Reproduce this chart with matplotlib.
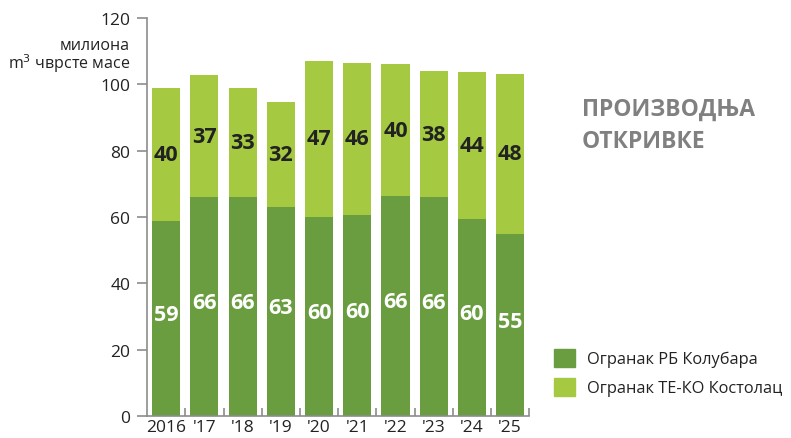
import matplotlib.pyplot as plt
from matplotlib.patches import Patch

plt.rcParams['font.family'] = ['Open Sans', 'DejaVu Sans']

years = ['2016', "'17", "'18", "'19", "'20", "'21", "'22", "'23", "'24", "'25"]
kolubara = [58.8, 66.0, 66.0, 63.0, 60.0, 60.6, 66.3, 66.0, 59.5, 55.0]
kostolac = [40.1, 36.8, 32.9, 31.7, 47.0, 45.8, 39.8, 38.0, 44.2, 48.1]
kolubara_lbl = [59, 66, 66, 63, 60, 60, 66, 66, 60, 55]
kostolac_lbl = [40, 37, 33, 32, 47, 46, 40, 38, 44, 48]
series_names = ['Огранак РБ Колубара', 'Огранак ТЕ-КО Костолац']

dark = '#6a9d3f'
light = '#a5ca42'
txt = '#222222'
axc = '#8c8c8c'

fig = plt.figure(figsize=(7.91, 4.39), dpi=100)
ax = fig.add_axes([0.186, 0.050, 0.483, 0.907])

x = range(len(years))
ax.bar(x, kolubara, width=0.735, color=dark)
ax.bar(x, kostolac, width=0.735, bottom=kolubara, color=light)

for i in x:
    ax.text(i, kolubara[i] * 0.52, str(kolubara_lbl[i]), ha='center', va='center',
            color='white', fontsize=15.5, fontweight='bold')
    ax.text(i, kolubara[i] + kostolac[i] / 2, str(kostolac_lbl[i]), ha='center',
            va='center', color=txt, fontsize=15.5, fontweight='bold')

ax.set_xlim(-0.5, 9.5)
ax.set_ylim(0, 120)
ax.set_yticks(range(0, 121, 20))
ax.tick_params(axis='y', labelsize=12.5, colors=axc, labelcolor=txt, length=7, width=1.2, pad=5)
ax.set_xticks([i + 0.5 for i in x])
ax.set_xticklabels([])
ax.tick_params(axis='x', direction='in', length=6, width=1.2, colors=axc)
for i, lab in enumerate(years):
    ax.text(i, -0.8, lab, ha='center', va='top', fontsize=12.5, color=txt)

for s in ['top', 'right']:
    ax.spines[s].set_visible(False)
for s in ['left', 'bottom']:
    ax.spines[s].set_color(axc)
    ax.spines[s].set_linewidth(1.2)

fig.text(130 / 791, 1 - 46 / 439, 'милиона', ha='right', va='center', fontsize=11.5, color=txt)
fig.text(130 / 791, 1 - 64 / 439, 'm$^3$ чврсте масе', ha='right', va='center',
         fontsize=11.5, color=txt)

fig.text(582 / 791, 1 - 126 / 439, 'ПРОИЗВОДЊА\nОТКРИВКЕ', ha='left', va='center',
         fontsize=16.5, fontweight='bold', color='#808080', linespacing=1.45)

handles = [Patch(color=dark), Patch(color=light)]
fig.legend(handles, series_names, loc='lower left', bbox_to_anchor=(539 / 791, 1 - 412 / 439),
           frameon=False, fontsize=11.8, handlelength=1.3, handleheight=1.3,
           labelspacing=0.65, handletextpad=0.7, labelcolor=txt)

fig.savefig('out.png', dpi=100)
